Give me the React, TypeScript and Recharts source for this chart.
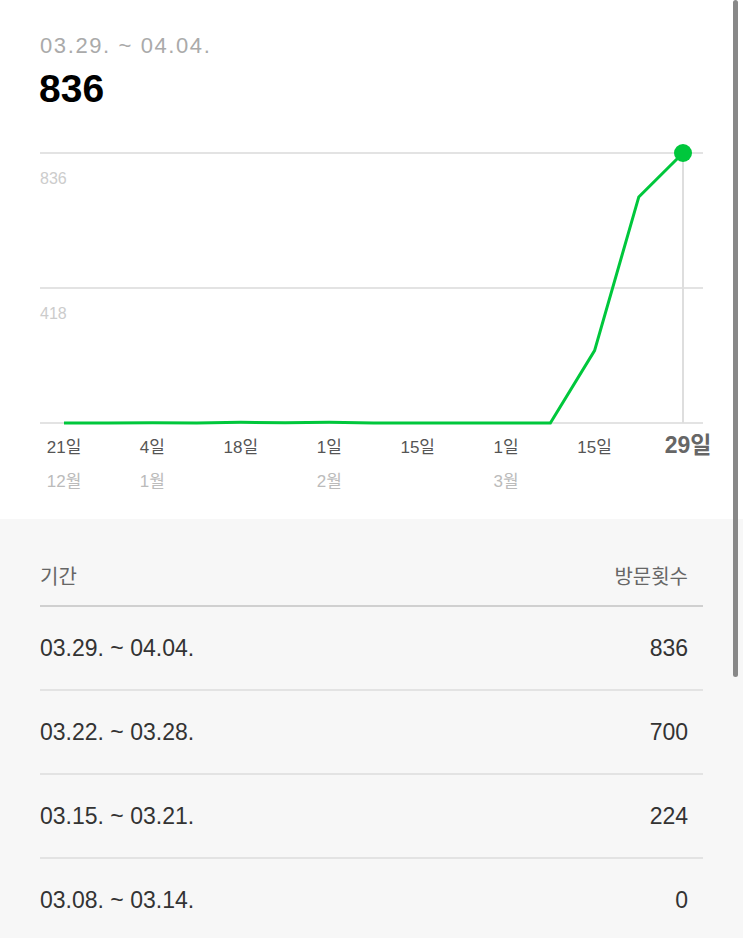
import React from 'react';
import { LineChart, Line, XAxis, YAxis, CartesianGrid, ReferenceLine } from 'recharts';

const weekStarts = ['12.21', '12.28', '01.04', '01.11', '01.18', '01.25', '02.01', '02.08', '02.15', '02.22', '03.01', '03.08', '03.15', '03.22', '03.29'];
const dayLabels = ['21일', '28일', '4일', '11일', '18일', '25일', '1일', '8일', '15일', '22일', '1일', '8일', '15일', '22일', '29일'];
const monthLabels = ['12월', '', '1월', '', '', '', '2월', '', '', '', '3월', '', '', '', ''];
const visits = [0, 0, 1, 0, 2, 1, 2, 0, 0, 0, 0, 0, 224, 700, 836];
const yTicks = [0, 418, 836];
const periodLabels = ['03.29. ~ 04.04.', '03.22. ~ 03.28.', '03.15. ~ 03.21.', '03.08. ~ 03.14.'];

const GREEN = '#00c73c';
const FONT = "'Liberation Sans', 'Noto Sans CJK KR', sans-serif";

const data = weekStarts.map((week, i) => ({ week, visits: visits[i] }));
const lastIdx = data.length - 1;
const tableRows = periodLabels.map((period, i) => ({ period, value: visits[lastIdx - i] }));

const XTick = ({ x, y, payload }: any) => {
  const i = weekStarts.indexOf(payload.value);
  const isLast = i === lastIdx;
  return (
    <g>
      <text
        x={x + (isLast ? 5 : 0)}
        y={y + 22}
        textAnchor="middle"
        fill={isLast ? '#666' : '#555'}
        fontSize={isLast ? 23 : 17}
        fontWeight={isLast ? 700 : 400}
        fontFamily={FONT}
      >
        {dayLabels[i]}
      </text>
      {monthLabels[i] && (
        <text x={x} y={y + 56} textAnchor="middle" fill="#bbb" fontSize={17} fontFamily={FONT}>
          {monthLabels[i]}
        </text>
      )}
    </g>
  );
};

// value labels sit just under each gridline, inside the plot
const YTick = ({ x, y, payload }: any) => {
  if (!payload.value) return <g />;
  return (
    <text x={x + 8} y={y + 31} textAnchor="start" fill="#ccc" fontSize={16} fontFamily={FONT}>
      {payload.value}
    </text>
  );
};

const LastDot = (props: any) => {
  const { cx, cy, index } = props;
  if (index !== lastIdx) return <g key={`d${index}`} />;
  return <circle key={`d${index}`} cx={cx} cy={cy} r={9} fill={GREEN} />;
};

export default function App() {
  return (
    <div
      style={{
        position: 'absolute',
        left: 0,
        top: 0,
        width: 743,
        height: 938,
        background: '#fff',
        overflow: 'hidden',
        fontFamily: FONT
      }}
    >
      <div style={{ position: 'absolute', left: 40, top: 33, fontSize: 22, color: '#aaa', letterSpacing: 1.6 }}>
        {periodLabels[0]}
      </div>
      <div style={{ position: 'absolute', left: 39, top: 67, fontSize: 39, fontWeight: 600, color: '#000' }}>
        {visits[lastIdx]}
      </div>

      <div style={{ position: 'absolute', left: 0, top: 0 }}>
        <LineChart width={743} height={500} data={data} margin={{ top: 153, right: 40, left: 0, bottom: 0 }}>
          <CartesianGrid horizontal vertical={false} stroke="#e3e3e3" strokeWidth={2} />
          <XAxis
            dataKey="week"
            height={77}
            interval={1}
            padding={{ left: 24, right: 20 }}
            tickLine={false}
            axisLine={false}
            tick={<XTick />}
          />
          <YAxis
            width={40}
            domain={[0, 836]}
            ticks={yTicks}
            interval={0}
            axisLine={false}
            tickLine={false}
            tick={<YTick />}
          />
          <ReferenceLine x={weekStarts[lastIdx]} stroke="#dedede" strokeWidth={2} />
          <Line
            type="linear"
            dataKey="visits"
            stroke={GREEN}
            strokeWidth={3}
            dot={LastDot}
            activeDot={false}
            isAnimationActive={false}
          />
        </LineChart>
      </div>

      <div style={{ position: 'absolute', left: 0, top: 519, width: 743, height: 419, background: '#f7f7f7' }}>
        <div style={{ position: 'absolute', left: 40, top: 26, width: 663 }}>
          <div
            style={{
              height: 60,
              display: 'flex',
              justifyContent: 'space-between',
              alignItems: 'center',
              paddingRight: 15,
              fontSize: 20,
              color: '#666',
              borderBottom: '2px solid #d0d0d0'
            }}
          >
            <span>기간</span>
            <span>방문횟수</span>
          </div>
          {tableRows.map((row) => (
            <div
              key={row.period}
              style={{
                height: 82,
                display: 'flex',
                justifyContent: 'space-between',
                alignItems: 'center',
                paddingRight: 15,
                fontSize: 23,
                color: '#333',
                borderBottom: '2px solid #e3e3e3'
              }}
            >
              <span>{row.period}</span>
              <span>{row.value}</span>
            </div>
          ))}
        </div>
      </div>

      <div style={{ position: 'absolute', left: 733, top: 0, width: 5, height: 677, background: '#888', borderRadius: 3 }} />
    </div>
  );
}
